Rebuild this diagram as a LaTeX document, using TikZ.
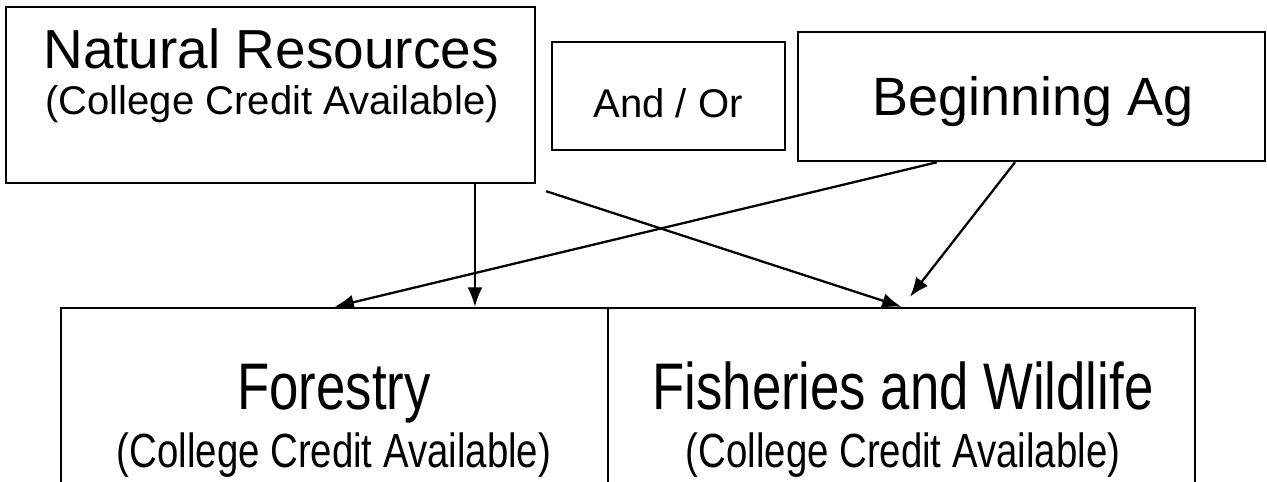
\documentclass[tikz,border=0pt]{standalone}
\usepackage{fontspec}
\setmainfont{Liberation Sans}
\newfontfamily\narrowsans[FakeStretch=0.8]{Liberation Sans}
\usetikzlibrary{arrows.meta,positioning,calc}
\newcommand{\pxl}{0.02cm}

\tikzset{
  bx/.style={draw, line width=1.4pt, inner sep=0pt},
  lbl/.style={anchor=base, inner sep=0pt},
  arr/.style={-{Latex[length=11pt,width=8.5pt]}, line width=1.3pt},
}

\begin{document}
\begin{tikzpicture}[x=0.02cm, y=-0.02cm]
    \useasboundingbox (0,0) rectangle (1267,481);
    \clip (0,0) rectangle (1267,481);

    % Top row
    \node[bx, minimum width=529*\pxl, minimum height=176*\pxl] (nr) at (270.5,95) {};
    \node[lbl, font=\fontsize{31.3}{36}\selectfont] (nrtitle) at (271,68) {Natural Resources};
    \node[lbl, font=\fontsize{22.8}{26}\selectfont] (nrsub) at (272,114) {(College Credit Available)};

    \node[bx, minimum width=233*\pxl, minimum height=108*\pxl] (andor) at (668.5,96) {};
    \node[lbl, font=\fontsize{22.8}{26}\selectfont] (andortxt) at (668,117) {And / Or};

    \node[bx, minimum width=467*\pxl, minimum height=129*\pxl] (bag) at (1031.5,96.5) {};
    \node[lbl, font=\fontsize{30.7}{35}\selectfont] (bagtxt) at (1033,115) {Beginning Ag};

    % Bottom row (runs off the page)
    \node[bx, minimum width=547*\pxl, minimum height=252*\pxl] (forest) at (334.5,434) {};
    \node[lbl, font=\narrowsans\fontsize{37.5}{42}\selectfont] (foresttitle) at (334,409) {Forestry};
    \node[lbl, font=\narrowsans\fontsize{27.3}{31}\selectfont] (forestsub) at (334,467) {(College Credit Available)};

    \node[bx, minimum width=587*\pxl, minimum height=252*\pxl] (fish) at (901.5,434) {};
    \node[lbl, font=\narrowsans\fontsize{37.5}{42}\selectfont] (fishtitle) at (903,409) {Fisheries and Wildlife};
    \node[lbl, font=\narrowsans\fontsize{27.3}{31}\selectfont] (fishsub) at (903,467) {(College Credit Available)};

    % Arrows
    \coordinate (nrdrop) at ([xshift=4.09cm]nr.south);
    \draw[arr] (nrdrop) -- (nrdrop |- forest.north);
    \draw[arr] ([xshift=0.2cm, yshift=-0.14cm]nr.south east) -- (fish.north);
    \draw[arr] ([xshift=-1.89cm]bag.south) -- (forest.north);
    \draw[arr] ([xshift=-0.33cm]bag.south) -- ([xshift=0.17cm, yshift=0.2cm]fish.north);
\end{tikzpicture}
\end{document}
